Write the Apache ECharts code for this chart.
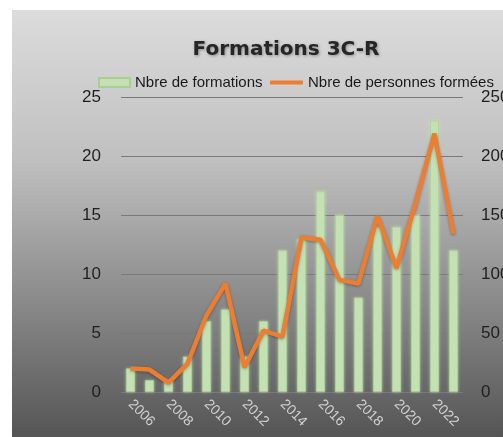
<!DOCTYPE html>
<html>
<head>
<meta charset="utf-8">
<script src="https://cdn.jsdelivr.net/npm/echarts@6/dist/echarts.min.js"></script>
<style>
html,body{margin:0;padding:0;background:#fff;}
#c{width:503px;height:437px;}
</style>
</head>
<body>
<div id="c"></div>
<script>
const years = ['2006','2007','2008','2009','2010','2011','2012','2013','2014','2015','2016','2017','2018','2019','2020','2021','2022','2023'];
const formations = [2,1,1,3,6,7,3,6,12,13,17,15,8,14,14,15,23,12];
const personnes = [20,19,8,24,65,92,21,52,47,131,129,95,92,149,105,160,219,134];
const leftTicks = [0,5,10,15,20,25];
const rightTicks = [0,50,100,150,200,250];

const chart = echarts.init(document.getElementById('c'), null, {renderer:'canvas'});
const font = 'Liberation Sans';
const legendText = {fontFamily:font, fontSize:15, color:'#1a1a1a'};
chart.setOption({
  animation:false,
  graphic:[{
    type:'rect', left:12, top:10, z:-10,
    shape:{width:491, height:427},
    style:{fill:new echarts.graphic.LinearGradient(0,0,0,1,[
      {offset:0,color:'#dcdcdc'},
      {offset:0.35,color:'#c0c0c0'},
      {offset:0.7,color:'#878787'},
      {offset:1,color:'#555555'}
    ])}
  }],
  title:{
    text:'Formations 3C-R', left:281, textAlign:'center', top:35,
    textStyle:{fontFamily:'DejaVu Sans', fontSize:20, fontWeight:'bold', color:'#262626',
      textShadowColor:'rgba(0,0,0,0.35)', textShadowBlur:3, textShadowOffsetX:1, textShadowOffsetY:1}
  },
  legend:[{
    left:98, top:75, padding:0, itemWidth:31, itemHeight:9,
    textStyle:legendText,
    data:[{name:'Nbre de formations', icon:'rect'}]
  },{
    left:270, top:75, padding:0, itemWidth:33, itemHeight:4,
    textStyle:legendText,
    data:[{name:'Nbre de personnes formées', icon:'roundRect'}]
  }],
  grid:{left:121, right:40, top:97, bottom:45, containLabel:false, outerBoundsMode:'none'},
  xAxis:{
    type:'category', data:years,
    axisLine:{show:false}, axisTick:{show:false},
    axisLabel:{interval:1, rotate:-45, fontFamily:font, fontSize:14, color:'#d2d2d2', margin:10}
  },
  yAxis:[{
    type:'value', min:0, max:25, interval:5,
    axisLabel:{fontFamily:font, fontSize:17, color:'#1f1f1f', margin:20,
      formatter:v=>leftTicks.includes(v)?String(v):''},
    splitLine:{lineStyle:{color:'#7a7a7a', width:1}},
    axisLine:{show:false}, axisTick:{show:false}
  },{
    type:'value', min:0, max:250, interval:50,
    axisLabel:{fontFamily:font, fontSize:17, color:'#1f1f1f', margin:18,
      formatter:v=>rightTicks.includes(v)?String(v):''},
    splitLine:{show:false}, axisLine:{show:false}, axisTick:{show:false}
  }],
  series:[{
    name:'Nbre de formations', type:'bar', data:formations, yAxisIndex:0,
    barWidth:9,
    itemStyle:{color:'#c5e0b4', borderColor:'#a9d18e', borderWidth:0.8,
      shadowColor:'rgba(200,240,190,0.6)', shadowBlur:3}
  },{
    name:'Nbre de personnes formées', type:'line', data:personnes, yAxisIndex:1,
    symbol:'none',
    lineStyle:{color:'#ed7d31', width:4.5, shadowColor:'rgba(0,0,0,0.3)', shadowBlur:3, shadowOffsetY:1},
    itemStyle:{color:'#ed7d31'}
  }]
});
</script>
</body>
</html>
